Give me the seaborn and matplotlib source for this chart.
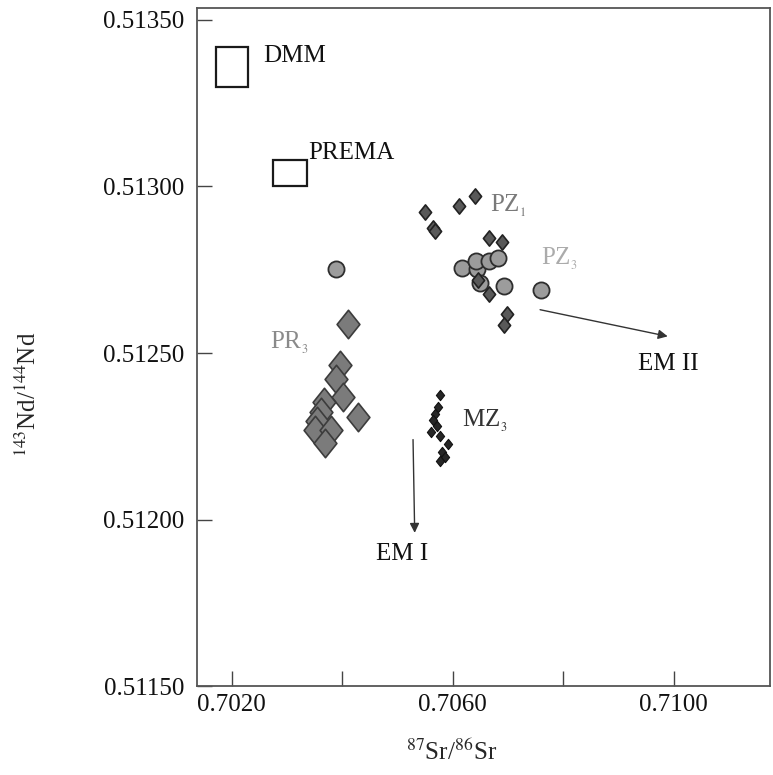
import numpy as np
import pandas as pd
import matplotlib
matplotlib.use('Agg')
import matplotlib.pyplot as plt
from matplotlib.patches import Rectangle
from matplotlib.path import Path
import seaborn as sns

# исходные данные
pz1_sr = [0.70549, 0.70564, 0.70567, 0.70611, 0.70640, 0.70665, 0.70689, 0.70645, 0.70665, 0.70698, 0.70692]
pz1_nd = [0.512922, 0.512874, 0.512865, 0.512940, 0.512970, 0.512844, 0.512832, 0.512718, 0.512676, 0.512616, 0.512583]

pz3_sr = [0.70388, 0.70616, 0.70643, 0.70642, 0.70665, 0.70681, 0.70649, 0.70692, 0.70759]
pz3_nd = [0.512751, 0.512754, 0.512751, 0.512775, 0.512775, 0.512784, 0.512709, 0.512700, 0.512688]

pr3_sr = [0.70410, 0.70395, 0.70388, 0.70401, 0.70367, 0.70361, 0.70428, 0.70354, 0.70350, 0.70379, 0.70368]
pr3_nd = [0.512586, 0.512463, 0.512421, 0.512367, 0.512352, 0.512322, 0.512307, 0.512295, 0.512268, 0.512268, 0.512229]

mz3_sr = [0.70576, 0.70573, 0.70567, 0.70564, 0.70571, 0.70560, 0.70576, 0.70591, 0.70580, 0.70586, 0.70576]
mz3_nd = [0.512373, 0.512337, 0.512316, 0.512298, 0.512280, 0.512262, 0.512250, 0.512226, 0.512202, 0.512187, 0.512175]

# поля мантийных источников: (sr_min, sr_max), (nd_min, nd_max)
dmm_sr, dmm_nd = (0.70171, 0.70229), (0.51330, 0.51342)
prema_sr, prema_nd = (0.70274, 0.70336), (0.51300, 0.51308)

# тренды к EM I / EM II: (начало, конец)
em2_sr, em2_nd = (0.70758, 0.70989), (0.51263, 0.51255)
em1_sr, em1_nd = (0.70528, 0.70531), (0.51224, 0.51196)

x_ticks = [0.7020, 0.7040, 0.7060, 0.7080, 0.7100]
x_labels = ['0.7020', '', '0.7060', '', '0.7100']
y_ticks = [0.51150, 0.51200, 0.51250, 0.51300, 0.51350]

sns.set_style('white')
plt.rcParams['font.family'] = ['Liberation Serif', 'DejaVu Serif']
plt.rcParams['mathtext.fontset'] = 'stix'

# ромб чуть вытянутый по вертикали
diamond = Path([(0, 1), (0.8, 0), (0, -1), (-0.8, 0), (0, 1)],
               [Path.MOVETO, Path.LINETO, Path.LINETO, Path.LINETO, Path.CLOSEPOLY])

fig = plt.figure(figsize=(7.73, 7.75), dpi=100)
ax = fig.add_axes([0.2549, 0.1148, 0.7411, 0.8749])

sns.scatterplot(x=pz3_sr, y=pz3_nd, ax=ax, marker='o', s=135,
                color='#9c9c9c', edgecolor='#2e2e2e', linewidth=1.3, zorder=3)
sns.scatterplot(x=pz1_sr, y=pz1_nd, ax=ax, marker=diamond, s=120,
                color='#595959', edgecolor='#222222', linewidth=1.2, zorder=4)
sns.scatterplot(x=pr3_sr, y=pr3_nd, ax=ax, marker=diamond, s=420,
                color='#7b7b7b', edgecolor='#3c3c3c', linewidth=1.2, zorder=3)
sns.scatterplot(x=mz3_sr, y=mz3_nd, ax=ax, marker=diamond, s=55,
                color='#262626', edgecolor='#111111', linewidth=0.8, zorder=3)

for sr, nd in [(dmm_sr, dmm_nd), (prema_sr, prema_nd)]:
    ax.add_patch(Rectangle((sr[0], nd[0]), sr[1] - sr[0], nd[1] - nd[0],
                           fill=False, edgecolor='#1a1a1a', linewidth=1.6, zorder=2))

for sr, nd in [(em2_sr, em2_nd), (em1_sr, em1_nd)]:
    ax.annotate('', xy=(sr[1], nd[1]), xytext=(sr[0], nd[0]),
                arrowprops=dict(arrowstyle='-|>', color='#333333', lw=1.0,
                                mutation_scale=14, shrinkA=0, shrinkB=0))

fs = 18
ax.text(0.70256, 0.513393, 'DMM', fontsize=fs, color='#111111', va='center')
ax.text(0.70338, 0.513102, 'PREMA', fontsize=fs, color='#111111', va='center')
ax.text(0.70667, 0.512943, r'PZ$_{_1}$', fontsize=fs, color='#7a7a7a', va='center')
ax.text(0.70759, 0.512784, r'PZ$_{_3}$', fontsize=fs, color='#ababab', va='center')
ax.text(0.70269, 0.512532, r'PR$_{_3}$', fontsize=fs, color='#8a8a8a', va='center')
ax.text(0.70616, 0.512298, r'MZ$_{_3}$', fontsize=fs, color='#333333', va='center')
ax.text(0.70935, 0.512466, 'EM II', fontsize=fs, color='#111111', va='center')
ax.text(0.70461, 0.511896, 'EM I', fontsize=fs, color='#111111', va='center')

ax.set_xlim(0.70137, 0.71174)
ax.set_ylim(0.51150, 0.513536)
ax.set_xticks(x_ticks)
ax.set_xticklabels(x_labels)
ax.set_yticks(y_ticks)
ax.set_yticklabels(['%.5f' % v for v in y_ticks])
ax.tick_params(direction='in', length=11, width=1.0, color='#444444',
               labelsize=fs, labelcolor='#111111', pad=6,
               bottom=True, left=True, top=False, right=False)
ax.tick_params(axis='y', pad=9)

ax.set_xlabel(r'$^{87}$Sr/$^{86}$Sr', fontsize=fs)
ax.set_ylabel(r'$^{143}$Nd/$^{144}$Nd', fontsize=fs)
ax.xaxis.set_label_coords(0.445, -0.097)
ax.yaxis.set_label_coords(-0.295, 0.43)
ax.xaxis.label.set_va('center')
ax.yaxis.label.set_va('center')

for sp in ax.spines.values():
    sp.set_color('#555555')
    sp.set_linewidth(1.3)
    sp.set_visible(True)

plt.savefig('out.png', dpi=100)
